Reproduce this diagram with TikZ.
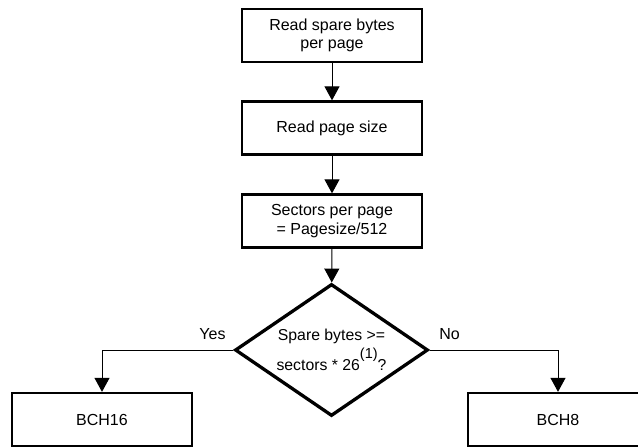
\documentclass[tikz,border=0pt]{standalone}
\usepackage{fontspec}
\setmainfont{Liberation Sans}
\usetikzlibrary{shapes.geometric,arrows.meta}
\begin{document}
\begin{tikzpicture}[x=1pt,y=-1pt,
  stepbox/.style={draw=black,line width=2.3pt,minimum width=180pt,minimum height=53pt,
    inner sep=0pt,align=center,font=\fontsize{16}{18.5}\selectfont},
  decbox/.style={draw=black,line width=3.3pt,shape=diamond,aspect=1.46,minimum width=193pt,
    minimum height=132pt,inner sep=0pt,align=center,font=\fontsize{15.8}{30}\selectfont},
  lbl/.style={anchor=base,inner sep=0pt,font=\fontsize{16}{18}\selectfont},
  flow/.style={draw=black,line width=1pt,-{Triangle[length=14pt,width=15pt]}}]
\useasboundingbox (0,0) rectangle (638,447);
\node[stepbox] (s1) at (332,35.5) {Read spare bytes\\per page};
\node[stepbox] (s2) at (332,128) {Read page size};
\node[stepbox] (s3) at (332,221) {Sectors per page\\= Pagesize/512};
\node[decbox] (d) at (331.5,350) {\raisebox{-2pt}{Spare bytes >=}\\\raisebox{-2pt}{sectors * 26\smash{\raisebox{12pt}{\fontsize{14.5}{14}\selectfont(1)}}?}};
\node[stepbox] (b16) at (102,419.5) {BCH16};
\node[stepbox] (b8) at (558,419.5) {BCH8};
\node[lbl] (yes) at (212.5,339) {Yes};
\node[lbl] (no) at (449.5,339) {No};
\draw[flow] (s1) -- (s2);
\draw[flow] (s2) -- (s3);
\draw[flow] (s3) -- (d);
\draw[flow] (d.west) -| (b16.north);
\draw[flow] (d.east) -| (b8.north);
\end{tikzpicture}
\end{document}
